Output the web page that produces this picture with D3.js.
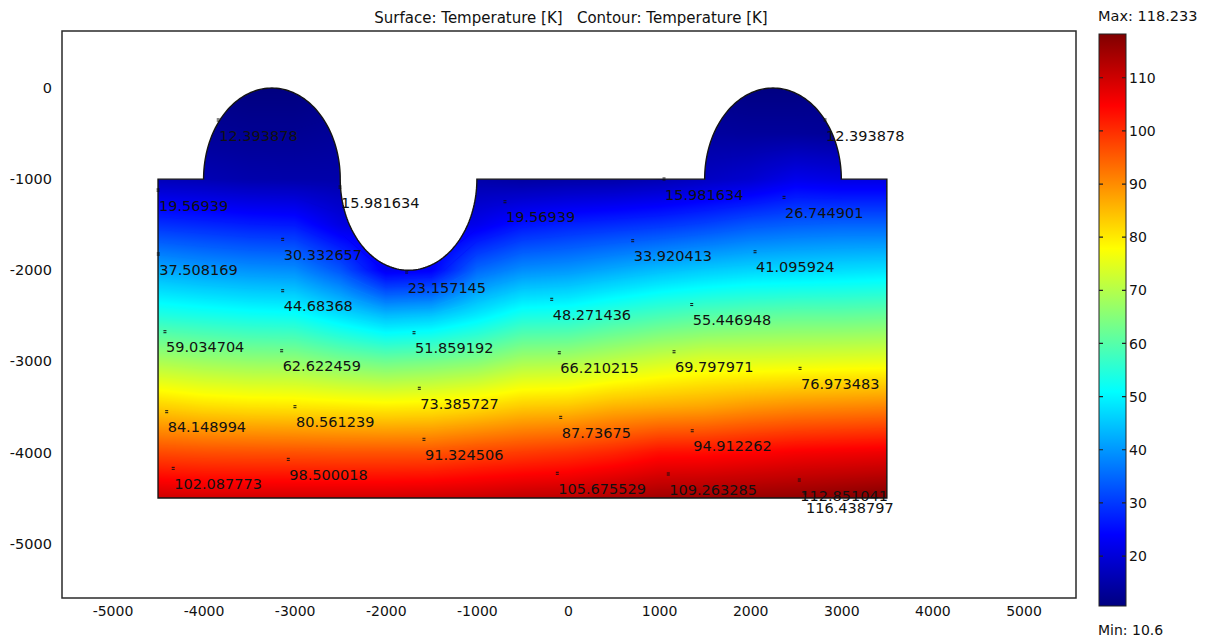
<!DOCTYPE html>
<html>
<head>
<meta charset="utf-8">
<script src="https://cdn.jsdelivr.net/npm/d3@7"></script>
<style>
  body { margin: 0; background: #fff; }
  svg text { font-family: "DejaVu Sans", Verdana, sans-serif; fill: #111; }
</style>
</head>
<body>
<svg id="chart" width="1206" height="639"></svg>
<script>
// ---- Temperature samples [K] on a regular grid (x across, depth down) ----
const gridX = [-4500, -4000, -3500, -3000, -2500, -2000, -1500, -1000, -500, 0, 500, 1000, 1500, 2000, 2500, 3000, 3500];
const gridY = [0, -500, -1000, -1500, -2000, -2500, -3000, -3500, -4000, -4500];
const tempRow0    = [11.5, 11.2, 10.6, 10.6, 11.2, 12.5, 13.5, 13.5, 13, 12.5, 12, 11.8, 11.5, 10.8, 10.8, 11.5, 12];
const tempRow500  = [13.5, 13, 12.6, 12.6, 13.2, 15, 16, 15.5, 14.5, 14, 13.5, 13.5, 13.8, 13.5, 13.5, 13, 15];
const tempRow1000 = [16.5, 16, 15.2, 15, 15, 17, 18, 15, 14, 14.5, 14.8, 15.8, 17.5, 19, 22, 21, 21];
const tempRow1500 = [29, 28, 27, 26.5, 21, 20, 20, 22, 26, 27.5, 28.5, 29.5, 31, 33, 34, 34.5, 34.5];
const tempRow2000 = [42, 40.5, 39.5, 39, 33, 22.5, 23.5, 35, 39, 40, 42, 44, 45.5, 46.5, 47, 47.5, 48];
const tempRow2500 = [54.5, 53.5, 52.5, 52, 48, 44, 45, 49, 53.5, 54, 56.5, 58.5, 60, 61, 61.5, 61.5, 62];
const tempRow3000 = [69, 67.5, 66.5, 66.3, 64, 62.5, 63.5, 65, 68.5, 69, 71, 73, 74.5, 74.5, 74.8, 75.2, 75.5];
const tempRow3500 = [83, 81.5, 80.8, 80.5, 80, 79.5, 80, 81.5, 83.5, 84, 86, 86.8, 87.5, 89, 90, 90.5, 91];
const tempRow4000 = [97, 96.5, 96.3, 96.2, 96, 96, 96, 97.5, 98.5, 99.5, 101, 103.3, 103.5, 104.5, 105.5, 106, 106.5];
const tempRow4500 = [110, 109.5, 109.5, 109.5, 109.5, 109.5, 110, 110.5, 111.5, 112, 113.5, 114.8, 115.3, 115.8, 116.4, 117.3, 118.23];
const temperature = [tempRow0, tempRow500, tempRow1000, tempRow1500, tempRow2000,
                     tempRow2500, tempRow3000, tempRow3500, tempRow4000, tempRow4500];
const tempMin = 10.6, tempMax = 118.233;

// ---- Contour levels and where each label sits ----
const contourLevels = [12.393878, 15.981634, 19.56939, 23.157145, 26.744901, 30.332657, 33.920413,
  37.508169, 41.095924, 44.68368, 48.271436, 51.859192, 55.446948, 59.034704, 62.622459, 66.210215,
  69.797971, 73.385727, 76.973483, 80.561239, 84.148994, 87.73675, 91.324506, 94.912262, 98.500018,
  102.087773, 105.675529, 109.263285, 112.851041, 116.438797];
const labelLevel = [0, 0, 1, 1, 2, 2, 3, 4, 5, 6, 7, 8, 9, 10, 11, 12, 13, 14, 15, 16, 17, 18, 19, 20, 21, 22, 23, 24, 25, 26, 27, 28, 29];
const labelX = [-3839, 2821, -2503, 1054, -4500, -692, -1771, 2371, -3132, 710, -4497, 2053, -3132, -179, -1690, 1358,
  -4424, -3143, -95, 1164, -1632, 2547, -2997, -4405, -80, -1581, 1364, -3070, -4333, -117, 1101, 2539, 2602];
const labelY = [-351, -351, -1087, -999, -1120, -1248, -2020, -1200, -1661, -1676, -1822, -1797, -2225, -2319, -2686, -2377,
  -2675, -2884, -2906, -2895, -3296, -3077, -3498, -3553, -3615, -3856, -3762, -4076, -4175, -4229, -4237, -4303, -4445];

// ---- Geometry: block with two domes on top and one trough cut into it ----
const blockLeft = -4500, blockRight = 3500, blockTop = -1000, blockBottom = -4500;
const domeCenters = [-3250, 2250];
const troughCenters = [-1750];
const arcRadiusX = 750, arcRadiusY = 1000;

// ---- Axis ticks ----
const xTicks = [-5000, -4000, -3000, -2000, -1000, 0, 1000, 2000, 3000, 4000, 5000];
const yTicks = [0, -1000, -2000, -3000, -4000, -5000];
const colorTicks = [20, 30, 40, 50, 60, 70, 80, 90, 100, 110];

// ---- Layout ----
const plot = { left: 62, top: 31, right: 1076, bottom: 598 };
const xScale = d3.scaleLinear().domain([-5554, 5576]).range([plot.left, plot.right]);
const yScale = d3.scaleLinear().domain([626, -5598]).range([plot.top, plot.bottom]);

// jet-style colour table
const jetStops = [0, 0.125, 0.375, 0.625, 0.875, 1];
const colorScale = d3.scaleLinear()
  .domain(jetStops.map(t => tempMin + t * (tempMax - tempMin)))
  .range(["#000080", "#0000ff", "#00ffff", "#ffff00", "#ff0000", "#800000"])
  .interpolate(d3.interpolateRgb)
  .clamp(true);

const svg = d3.select("#chart");

// Boundary outline of the domain, as data-space points
function boundaryPoints() {
  const pts = [[blockLeft, blockTop]];
  const arcs = domeCenters.map(c => ({ c, up: true }))
    .concat(troughCenters.map(c => ({ c, up: false })))
    .sort((a, b) => a.c - b.c);
  const n = 90;
  arcs.forEach(a => {
    for (let k = 0; k <= n; k++) {
      const th = Math.PI - Math.PI * k / n;
      const px = a.c + arcRadiusX * Math.cos(th);
      const py = blockTop + (a.up ? 1 : -1) * arcRadiusY * Math.sin(th);
      pts.push([px, py]);
    }
  });
  pts.push([blockRight, blockTop], [blockRight, blockBottom], [blockLeft, blockBottom]);
  return pts;
}
const outline = d3.line().x(d => xScale(d[0])).y(d => yScale(d[1])).curve(d3.curveLinearClosed);
const outlineD = outline(boundaryPoints());

const defs = svg.append("defs");
defs.append("clipPath").attr("id", "domainClip").append("path").attr("d", outlineD);

// Bilinear lookup in the sample grid
const dxg = gridX[1] - gridX[0], dyg = gridY[0] - gridY[1];
function tempAt(x, y) {
  let gx = (x - gridX[0]) / dxg, gy = (gridY[0] - y) / dyg;
  gx = Math.max(0, Math.min(gridX.length - 1.0001, gx));
  gy = Math.max(0, Math.min(gridY.length - 1.0001, gy));
  const i = Math.floor(gx), j = Math.floor(gy), fx = gx - i, fy = gy - j;
  const a = temperature[j][i], b = temperature[j][i + 1];
  const c = temperature[j + 1][i], d = temperature[j + 1][i + 1];
  return (a * (1 - fx) + b * fx) * (1 - fy) + (c * (1 - fx) + d * fx) * fy;
}

// Surface plot, rasterised onto a canvas then placed in the SVG
const lut = d3.range(1024).map(k => d3.color(colorScale(tempMin + (tempMax - tempMin) * k / 1023)));
const x0 = Math.floor(xScale(blockLeft)) - 2, x1 = Math.ceil(xScale(blockRight)) + 2;
const y0 = Math.floor(yScale(0)) - 2, y1 = Math.ceil(yScale(blockBottom)) + 2;
const cw = x1 - x0, ch = y1 - y0;
const canvas = document.createElement("canvas");
canvas.width = cw; canvas.height = ch;
const ctx = canvas.getContext("2d");
const img = ctx.createImageData(cw, ch);
for (let py = 0; py < ch; py++) {
  const dy = yScale.invert(y0 + py + 0.5);
  for (let px = 0; px < cw; px++) {
    const dx = xScale.invert(x0 + px + 0.5);
    const t = tempAt(dx, dy);
    const k = Math.max(0, Math.min(1023, Math.round((t - tempMin) / (tempMax - tempMin) * 1023)));
    const col = lut[k];
    const o = (py * cw + px) * 4;
    img.data[o] = col.r; img.data[o + 1] = col.g; img.data[o + 2] = col.b; img.data[o + 3] = 255;
  }
}
ctx.putImageData(img, 0, 0);

const surface = svg.append("g").attr("clip-path", "url(#domainClip)");
surface.append("image")
  .attr("x", x0).attr("y", y0).attr("width", cw).attr("height", ch)
  .attr("preserveAspectRatio", "none")
  .attr("href", canvas.toDataURL());

// Contour lines, coloured by the same table
const flat = temperature.flat();
const contours = d3.contours().size([gridX.length, gridY.length]).thresholds(contourLevels)(flat);
const toData = d3.geoTransform({
  point: function (gx, gy) {
    this.stream.point(xScale(gridX[0] + (gx - 0.5) * dxg), yScale(gridY[0] - (gy - 0.5) * dyg));
  }
});
surface.append("g").selectAll("path").data(contours).join("path")
  .attr("d", d3.geoPath(toData))
  .attr("fill", "none")
  .attr("stroke", d => colorScale(d.value))
  .attr("stroke-width", 1);

// Domain boundary
svg.append("path").attr("d", outlineD)
  .attr("fill", "none").attr("stroke", "#151515").attr("stroke-width", 1.4);

// Contour labels with their small markers
const labels = svg.append("g");
labelLevel.forEach((li, k) => {
  const px = xScale(labelX[k]), py = yScale(labelY[k]);
  labels.append("path")
    .attr("d", `M${px - 1.5},${py - 1}h3M${px - 1.5},${py + 1}h3`)
    .attr("stroke", "#111").attr("stroke-width", 1);
  labels.append("text")
    .attr("x", px + 1).attr("y", py + 20.5)
    .style("font-size", "14.5px")
    .text(String(contourLevels[li]));
});

// Plot frame
svg.append("rect")
  .attr("x", plot.left).attr("y", plot.top)
  .attr("width", plot.right - plot.left).attr("height", plot.bottom - plot.top)
  .attr("fill", "none").attr("stroke", "#2a2a2a").attr("stroke-width", 1.5);

// Axes (labels only)
const yAxis = svg.append("g").attr("transform", `translate(${plot.left},0)`)
  .call(d3.axisLeft(yScale).tickValues(yTicks).tickSize(0).tickPadding(10).tickFormat(d => String(d)));
yAxis.select(".domain").remove();
yAxis.selectAll("text").style("font-size", "14.5px").attr("fill", "#111");

const xAxis = svg.append("g").attr("transform", `translate(0,${plot.bottom})`)
  .call(d3.axisBottom(xScale).tickValues(xTicks).tickSize(0).tickPadding(8).tickFormat(d => String(d)));
xAxis.select(".domain").remove();
xAxis.selectAll("text").style("font-size", "14px").attr("fill", "#111");

// Title
svg.append("text").attr("x", 571).attr("y", 23).attr("text-anchor", "middle")
  .style("font-size", "15px")
  .text("Surface: Temperature [K]   Contour: Temperature [K]")
  .attr("xml:space", "preserve").style("white-space", "pre");

// Colour bar
const bar = { x: 1099, y: 34, w: 27, h: 572 };
const cScale = d3.scaleLinear().domain([tempMin, tempMax]).range([bar.y + bar.h, bar.y]);
const grad = defs.append("linearGradient").attr("id", "barGrad")
  .attr("x1", 0).attr("y1", 1).attr("x2", 0).attr("y2", 0);
jetStops.forEach(t => {
  const v = tempMin + t * (tempMax - tempMin);
  grad.append("stop").attr("offset", t).attr("stop-color", colorScale(v));
});
svg.append("rect").attr("x", bar.x).attr("y", bar.y).attr("width", bar.w).attr("height", bar.h)
  .attr("fill", "url(#barGrad)").attr("stroke", "#222").attr("stroke-width", 1);
const cb = svg.append("g");
colorTicks.forEach(v => {
  const y = cScale(v);
  cb.append("path").attr("d", `M${bar.x},${y}h4M${bar.x + bar.w - 4},${y}h4`)
    .attr("stroke", "#222").attr("stroke-width", 1.2);
  cb.append("text").attr("x", bar.x + bar.w + 3).attr("y", y).attr("dy", "0.36em")
    .style("font-size", "14px").text(v);
});
svg.append("text").attr("x", 1098).attr("y", 21).style("font-size", "14.5px").text("Max: " + tempMax);
svg.append("text").attr("x", 1098).attr("y", 635).style("font-size", "14px").text("Min: " + tempMin);
</script>
</body>
</html>
